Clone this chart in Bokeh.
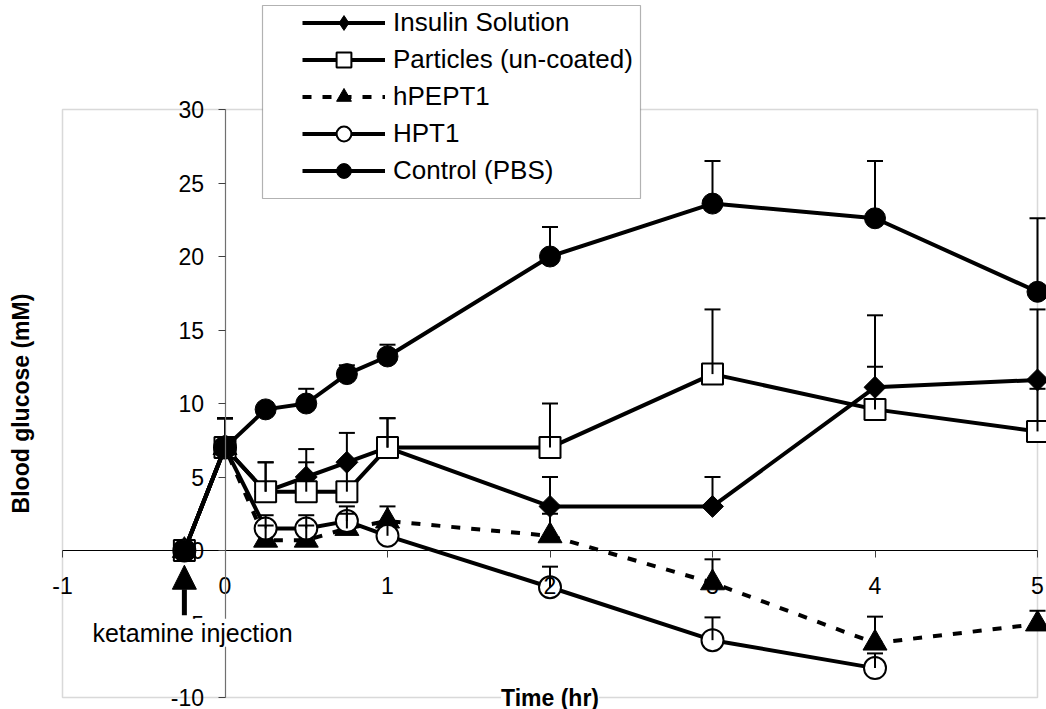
import math
from bokeh.plotting import figure
from bokeh.models import (Range1d, LinearAxis, FixedTicker, Whisker, TeeHead, ColumnDataSource,
                          Legend, LegendItem, Label, Arrow, NormalHead, BoxAnnotation)
from bokeh.embed import file_html
from bokeh.resources import INLINE

# ---------------- data ----------------
time = [-0.25, 0, 0.25, 0.5, 0.75, 1, 2, 3, 4, 5]

insulin = [0, 7, 4, 5, 6, 7, 3, 3, 11.1, 11.6]
insulin_err = [0, 2, 2, 1.9, 2, 2, 2, 2, 4.9, 4.8]

particles = [0, 7, 4, 4, 4, 7, 7, 12, 9.6, 8.1]
particles_err = [0, 2, 2, 2, 2, 2, 3, 4.4, 2.9, 2.9]

hpept1 = [0, 7, 0.7, 0.7, 1.5, 2.0, 1.0, -2.2, -6.3, -5.0]
hpept1_err = [0, 2, 1.0, 1.0, 1.0, 1.0, 1.5, 1.6, 1.8, 0.9]

hpt1_time = [-0.25, 0, 0.25, 0.5, 0.75, 1, 2, 3, 4]
hpt1 = [0, 7, 1.5, 1.5, 2.0, 1.0, -2.5, -6.1, -8.0]
hpt1_err = [0, 2, 0.9, 0.9, 1.0, 1.0, 1.4, 1.55, 1.0]

control = [0, 7, 9.6, 10, 12, 13.2, 20, 23.6, 22.6, 17.6]
control_err = [0, 2, 0.3, 1, 0.6, 0.8, 2, 2.9, 3.9, 5.0]

series_names = ["Insulin Solution", "Particles (un-coated)", "hPEPT1", "HPT1", "Control (PBS)"]
x_ticks = [-1, 0, 1, 2, 3, 4, 5]
y_ticks = [-10, -5, 0, 5, 10, 15, 20, 25, 30]

injection_time = -0.25
arrow_tip, arrow_tail = -1.0, -4.4

FONT = "Liberation Sans"

# ---------------- layout (plot area inside the canvas) ----------------
W, H = 1046, 709
x_lo, x_hi, y_lo, y_hi = -1, 5, -10, 30
area_left, area_right, area_top, area_bottom = 62, 1037, 109, 697   # pixels
xs_per_px = (x_hi - x_lo) / (area_right - area_left)
ys_per_px = (y_hi - y_lo) / (area_bottom - area_top)
x_range = Range1d(x_lo - area_left * xs_per_px, x_hi + (W - area_right) * xs_per_px)
y_range = Range1d(y_lo - (H - area_bottom) * ys_per_px, y_hi + area_top * ys_per_px)

p = figure(width=W, height=H, x_range=x_range, y_range=y_range,
           output_backend="svg", toolbar_location=None,
           x_axis_location=None, y_axis_location=None,
           min_border=0, min_border_left=0, min_border_right=0,
           min_border_top=0, min_border_bottom=0)
p.grid.visible = False
p.outline_line_color = None
p.background_fill_color = "white"
p.border_fill_color = "white"

# plot-area border
p.add_layout(BoxAnnotation(left=x_lo, right=x_hi, bottom=y_lo, top=y_hi,
                           fill_alpha=0, line_color="#808080", line_width=1.5, level="underlay"))

# axes crossing at zero
xax = LinearAxis(ticker=FixedTicker(ticks=x_ticks), fixed_location=0, bounds=(x_lo, x_hi),
                 axis_line_color="black", axis_line_width=1,
                 major_tick_out=7, major_tick_in=0, major_tick_line_color="#404040",
                 minor_tick_out=0, minor_tick_in=0,
                 major_label_overrides={t: str(t) for t in x_ticks},
                 major_label_text_font=FONT, major_label_text_font_size="23px",
                 major_label_text_color="black", major_label_standoff=19)
yax = LinearAxis(ticker=FixedTicker(ticks=y_ticks), fixed_location=0, bounds=(y_lo, y_hi),
                 axis_line_color="#707070", axis_line_width=1.2,
                 major_tick_out=7, major_tick_in=0, major_tick_line_color="#404040",
                 minor_tick_out=0, minor_tick_in=0,
                 major_label_overrides={t: str(t) for t in y_ticks},
                 major_label_text_font=FONT, major_label_text_font_size="23px",
                 major_label_text_color="black", major_label_standoff=14)
p.add_layout(xax, "below")
p.add_layout(yax, "left")

# ---------------- series ----------------
def add_series(xs, ys, errs, marker, size, fill, line_dash="solid", angle=0.0, mline=2):
    src = ColumnDataSource(dict(x=xs, y=ys, upper=[a + b for a, b in zip(ys, errs)]))
    lr = p.line("x", "y", source=src, line_color="black", line_width=4, line_dash=line_dash)
    w = Whisker(source=src, base="x", upper="upper", lower="y", dimension="height",
                line_color="black", line_width=2, lower_head=None,
                upper_head=TeeHead(size=16, line_width=2, line_color="black"), level="glyph")
    p.add_layout(w)
    sr = p.scatter("x", "y", source=src, marker=marker, size=size, fill_color=fill,
                   line_color="black", line_width=mline, angle=angle)
    return [lr, sr]

r_ins = add_series(time, insulin, insulin_err, "square", 15.5, "black", angle=math.pi / 4, mline=1)
r_par = add_series(time, particles, particles_err, "square", 21, "white")
r_hpe = add_series(time, hpept1, hpept1_err, "triangle", 24, "black", line_dash="9 11", mline=1)
r_hpt = add_series(hpt1_time, hpt1, hpt1_err, "circle", 22, "white")
r_con = add_series(time, control, control_err, "circle", 21, "black", mline=1)

# legend-only diamond key (legend glyphs ignore marker angle); its single point is NaN, not drawn
ins_key = p.scatter(x=[float("nan")], y=[float("nan")], marker="diamond", size=10,
                    fill_color="black", line_color="black")

# ---------------- annotations ----------------
p.add_layout(Arrow(end=NormalHead(size=24, fill_color="black", line_color="black"),
                   x_start=injection_time, y_start=arrow_tail, x_end=injection_time, y_end=arrow_tip,
                   line_width=5, line_color="black"))

p.add_layout(Label(x=-0.2, y=-5.6, text="ketamine injection", text_align="center",
                   text_baseline="middle", text_font=FONT, text_font_size="25px",
                   text_color="black", background_fill_color="white"))

p.add_layout(Label(x=2.0, y=y_lo, text="Time (hr)", text_align="center", text_baseline="middle",
                   text_font=FONT, text_font_size="23px", text_font_style="bold",
                   text_color="black", background_fill_color="white"))

p.add_layout(Label(x=20, x_units="screen", y=(y_lo + y_hi) / 2, text="Blood glucose (mM)",
                   angle=math.pi / 2, text_align="center", text_baseline="middle",
                   text_font=FONT, text_font_size="23px", text_font_style="bold",
                   text_color="black"))

# legend box (screen pixels from bottom-left of canvas)
p.add_layout(BoxAnnotation(left=262, right=640, top=H - 5, bottom=H - 198,
                           left_units="screen", right_units="screen",
                           top_units="screen", bottom_units="screen",
                           fill_color="white", fill_alpha=1.0, line_color="black", line_width=1.2))

legend_renderers = [[r_ins[0], ins_key], r_par, r_hpe, r_hpt, r_con]
legend = Legend(items=[LegendItem(label=n, renderers=r) for n, r in
                       zip(series_names, legend_renderers)],
                location=(302, H - 189), padding=0, spacing=0, margin=0,
                glyph_width=83, glyph_height=37, label_height=37, label_standoff=8,
                label_text_font=FONT, label_text_font_size="26px", label_text_color="black",
                border_line_color=None, background_fill_alpha=0)
p.add_layout(legend)

open("out.html", "w").write(file_html(p, INLINE))
